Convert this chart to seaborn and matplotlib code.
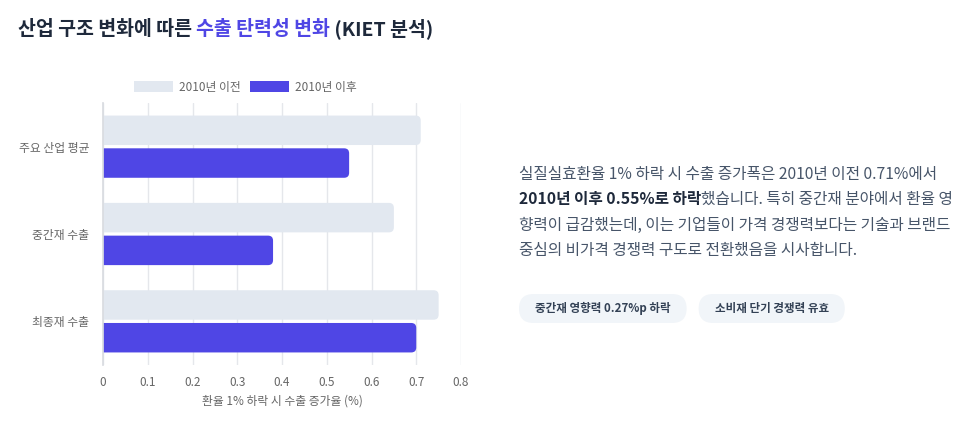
import pandas as pd
import seaborn as sns
import matplotlib.pyplot as plt
from matplotlib.patches import FancyBboxPatch

# 산업 구조 변화에 따른 수출 탄력성 (KIET)
categories = ['주요 산업 평균', '중간재 수출', '최종재 수출']
before_2010 = [0.71, 0.65, 0.75]
after_2010 = [0.55, 0.38, 0.70]
series_names = ['2010년 이전', '2010년 이후']
x_ticks = [0, 0.1, 0.2, 0.3, 0.4, 0.5, 0.6, 0.7, 0.8]
x_label = '환율 1% 하락 시 수출 증가율 (%)'
chips = ['중간재 영향력 0.27%p 하락', '소비재 단기 경쟁력 유효']

df = pd.DataFrame({
    'cat': categories * 2,
    'val': before_2010 + after_2010,
    'period': [series_names[0]] * 3 + [series_names[1]] * 3,
})

sns.set_theme(style='white')
plt.rcParams['font.family'] = ['Noto Sans CJK KR', 'DejaVu Sans']

W, H = 975, 428
fig = plt.figure(figsize=(W / 100, H / 100), dpi=100)
ax = fig.add_axes([103 / W, 1 - 365 / H, (461 - 103) / W, (365 - 103) / H])

colors = ['#e2e8f0', '#4f46e5']
sns.barplot(data=df, x='val', y='cat', hue='period', palette=colors,
            width=0.75, gap=0.1, ax=ax, legend=False, saturation=1)

# arrondir le bout des barres
aspect = (1 / 87.3) / (0.8 / 358)
r = 5 * 0.8 / 358
for p in list(ax.patches):
    x0, y0, w, h = p.get_x(), p.get_y(), p.get_width(), p.get_height()
    fc = p.get_facecolor()
    p.remove()
    ax.add_patch(FancyBboxPatch((x0 - 2 * r, y0), w + 2 * r, h,
                                boxstyle=f'round,pad=0,rounding_size={r}',
                                mutation_aspect=aspect, fc=fc, ec='none', zorder=2))

ax.set_xlim(0, 0.8)
ax.set_xticks(x_ticks)
ax.set_xticklabels([f'{t:g}' for t in x_ticks])
ax.grid(axis='x', color='#e5e7eb', lw=1, zorder=0)
ax.set_axisbelow(True)
for s in ['top', 'right', 'bottom']:
    ax.spines[s].set_visible(False)
ax.spines['left'].set_color('#d9dce1')
ax.tick_params(axis='x', labelsize=8.5, colors='#666666', length=4, color='#e5e7eb', pad=4)
ax.tick_params(axis='y', labelsize=8.5, colors='#666666', length=0, pad=10)
ax.set_xlabel(x_label, fontsize=8.5, color='#666666', labelpad=4)
ax.set_ylabel('')

handles = [plt.Rectangle((0, 0), 1, 1, fc=c, ec='none') for c in colors]
fig.legend(handles, series_names, loc='center', bbox_to_anchor=(245 / W, 1 - 87 / H),
           ncol=2, frameon=False, fontsize=8.5, handlelength=3.3, handleheight=0.95,
           handletextpad=0.5, columnspacing=0.8, labelcolor='#666666')

renderer = fig.canvas.get_renderer()


def runs(x_px, y_px, pieces, size):
    # pieces = [(texte, couleur, gras)]
    x = x_px
    for txt, col, bold in pieces:
        t = fig.text(x / W, 1 - y_px / H, txt, fontsize=size, color=col,
                     fontweight='bold' if bold else 'normal', va='baseline', ha='left')
        bb = t.get_window_extent(renderer)
        x += bb.width
    return x


dark = '#1e293b'
runs(18, 35, [('산업 구조 변화에 따른 ', dark, True), ('수출 탄력성 변화', '#4f46e5', True),
              (' (KIET 분석)', dark, True)], 14)

body = '#475569'
lines = [
    [('실질실효환율 1% 하락 시 수출 증가폭은 2010년 이전 0.71%에서', body, False)],
    [('2010년 이후 0.55%로 하락', dark, True), ('했습니다. 특히 중간재 분야에서 환율 영', body, False)],
    [('향력이 급감했는데, 이는 기업들이 가격 경쟁력보다는 기술과 브랜드', body, False)],
    [('중심의 비가격 경쟁력 구도로 전환했음을 시사합니다.', body, False)],
]
for i, ln in enumerate(lines):
    runs(519, 178.5 + i * 25.5, ln, 11.3)

# pastilles
cx = 519
for c in chips:
    t = fig.text(0, 0, c, fontsize=8.3, fontweight='bold', color='#334155',
                 va='center', ha='center', zorder=3)
    tw = t.get_window_extent(renderer).width
    bw = tw + 32
    t.set_position(((cx + bw / 2) / W, 1 - 308.5 / H))
    fig.add_artist(FancyBboxPatch((cx / W, 1 - 323 / H), bw / W, 29 / H,
                                  boxstyle=f'round,pad=0,rounding_size={14.5 / W}',
                                  mutation_aspect=W / H, transform=fig.transFigure,
                                  fc='#f1f5f9', ec='none', zorder=1))
    cx += bw + 12

fig.savefig('out.png', dpi=100, facecolor='white')
